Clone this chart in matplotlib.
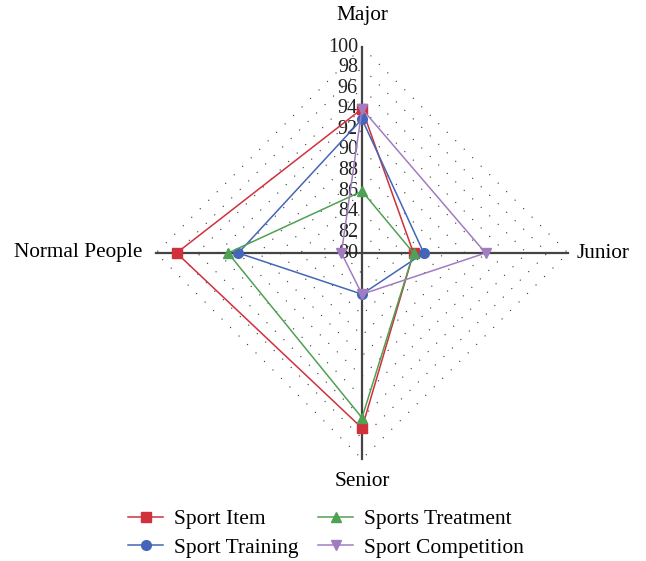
import numpy as np
import matplotlib
matplotlib.use("Agg")
from matplotlib import pyplot as plt

# data
axes_names = ["Major", "Junior", "Senior", "Normal People"]
levels = [80, 82, 84, 86, 88, 90, 92, 94, 96, 98, 100]
sport_item = [94, 85, 97, 98]
sport_training = [93, 86, 84, 92]
sports_treatment = [86, 85, 96, 93]
sport_competition = [94, 92, 84, 82]

series = [
    ("Sport Item", sport_item, "#d0313b", "s"),
    ("Sport Training", sport_training, "#4466b8", "o"),
    ("Sports Treatment", sports_treatment, "#4fa153", "^"),
    ("Sport Competition", sport_competition, "#a27cc0", "v"),
]

plt.rcParams["font.family"] = ["Liberation Serif", "DejaVu Serif"]

# axis directions: up, right, down, left
dirs = np.array([[0, 1], [1, 0], [0, -1], [-1, 0]])
base = levels[0]
rmax = levels[-1] - base


def to_xy(vals):
    r = np.array(vals, dtype=float) - base
    pts = dirs * r[:, None]
    return np.vstack([pts, pts[:1]])


fig = plt.figure(figsize=(6.46, 5.61), dpi=100)
ax = fig.add_axes([0, 0, 1, 1])
ax.set_xlim(-362 / 10.3, (646 - 362) / 10.3)
ax.set_ylim(-(561 - 253) / 10.3, 253 / 10.3)
ax.axis("off")

# dotted diamond grid
for lv in levels[1:]:
    pts = to_xy([lv] * 4)
    ax.plot(pts[:, 0], pts[:, 1], color="#333333", lw=0.8,
            linestyle=(0, (1, 9.8)), zorder=1)

# main axes
ax.plot([-rmax, rmax], [0, 0], color="#444444", lw=1.6, zorder=2)
ax.plot([0, 0], [-rmax, rmax], color="#444444", lw=1.6, zorder=2)

# radial labels
for lv in levels:
    ax.text(-0.4, lv - base, str(lv), ha="right", va="center",
            fontsize=14.5, color="#222222", zorder=3)

# axis names
ax.text(0, 23.1, axes_names[0], ha="center", va="center", fontsize=15.3)
ax.text(rmax + 0.8, 0, axes_names[1], ha="left", va="center", fontsize=15.3)
ax.text(0, -rmax - 2.2, axes_names[2], ha="center", va="center", fontsize=15.3)
ax.text(-rmax - 1.3, 0, axes_names[3], ha="right", va="center", fontsize=15.3)

for name, vals, col, mk in series:
    pts = to_xy(vals)
    ax.plot(pts[:, 0], pts[:, 1], color=col, lw=1.1, marker=mk,
            markersize=7, markevery=range(4), label=name, zorder=4)

fig.legend(loc="upper left", bbox_to_anchor=(128 / 646, 1 - 509 / 561), ncol=2,
           frameon=False, fontsize=15.5, handlelength=1.63,
           columnspacing=0.93, labelspacing=0.39, handletextpad=0.5,
           borderpad=0, borderaxespad=0)

fig.savefig("out.png", dpi=100)
